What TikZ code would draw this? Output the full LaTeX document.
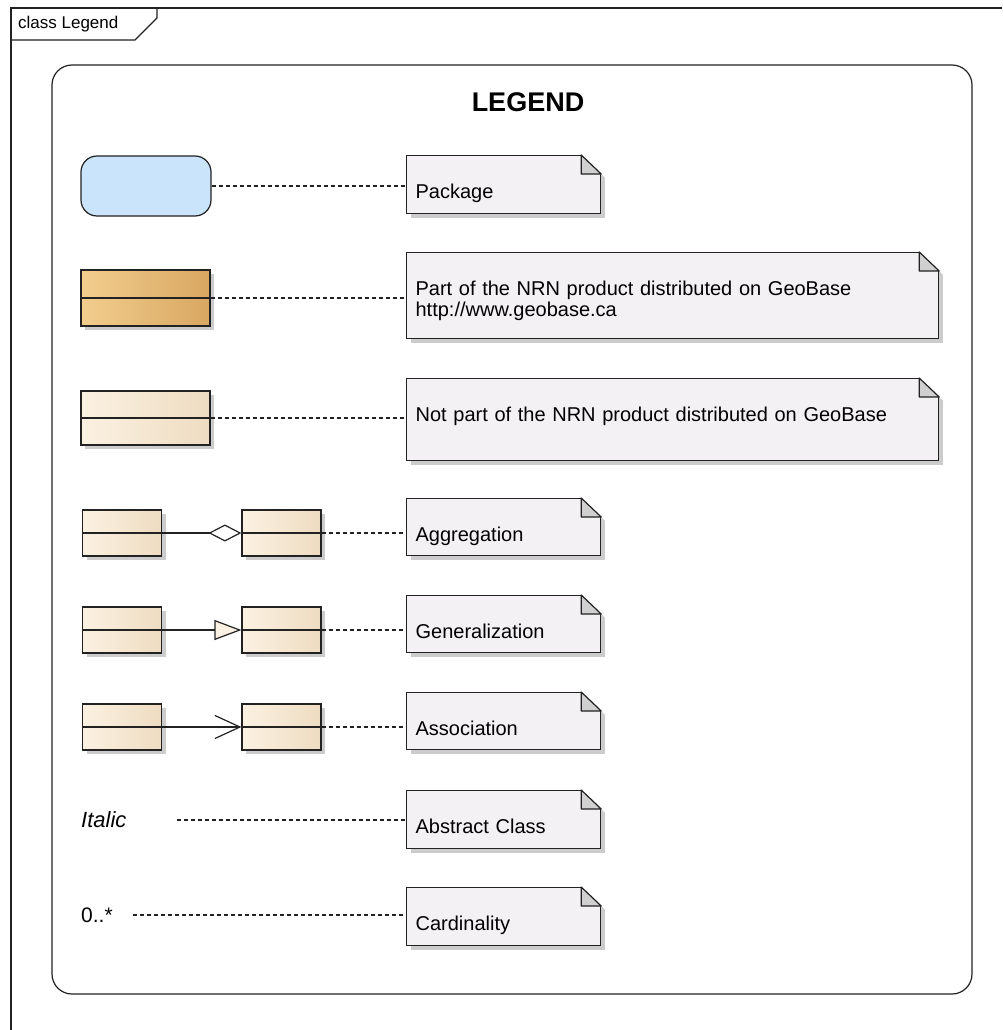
\documentclass[tikz,border=0pt]{standalone}
\usepackage{fontspec}
\setmainfont{Liberation Sans}
\usetikzlibrary{arrows.meta,shadows,positioning}

\definecolor{linec}{HTML}{222222}
\definecolor{pkgblue}{HTML}{C9E4FB}
\definecolor{notefill}{HTML}{F4F1F4}
\definecolor{foldgray}{HTML}{D0D0D0}
\definecolor{geoL}{HTML}{F2CD8E}
\definecolor{geoR}{HTML}{D8A761}
\definecolor{plainL}{HTML}{FBF1E2}
\definecolor{plainR}{HTML}{EEDCC1}

\tikzset{
  softshadow/.style={drop shadow={shadow xshift=4pt,shadow yshift=-4pt,fill=black!40}},
  classbox/.style={draw=linec, line width=1.2pt, inner sep=0pt, softshadow,
    left color=plainL, right color=plainR,
    path picture={\draw[linec,line width=1.4pt] (path picture bounding box.west) -- (path picture bounding box.east);}},
  notebox/.style={draw=linec, line width=1.2pt, fill=notefill, softshadow, anchor=north west,
    inner xsep=9pt, inner ysep=0pt, align=left, text height=43pt,
    font=\fontsize{20}{21}\selectfont},
  dots/.style={linec, line width=1.3pt, dash pattern=on 4pt off 3pt},
  aggline/.style={linec, line width=1.2pt, -{Diamond[open,length=33pt,width=17pt]}},
  genline/.style={linec, line width=1.2pt, -{Triangle[length=27pt,width=20pt,fill=plainL]}},
  ascline/.style={linec, line width=1.2pt, -{Straight Barb[length=25pt,width=23pt]}}
}

\begin{document}
\begin{tikzpicture}[x=1pt,y=-1pt]
\useasboundingbox (0,0) rectangle (1002,1030);

% frame and tab
\draw[linec, line width=1.3pt] (11,1030) -- (11,8) -- (1002,8);
\draw[linec, line width=1.2pt] (11,40) -- (135,40) -- (157,18) -- (157,8);
\node[anchor=base west, inner sep=0pt, font=\fontsize{17}{17}\selectfont] (tabLbl) at (18,29) {class Legend};

\node[draw=linec, line width=1.2pt, rounded corners=20pt, minimum width=920pt, minimum height=929pt] (board) at (512,529.5) {};
\node[font=\bfseries\fontsize{27}{27}\selectfont] (title) at (528,102) {LEGEND};

% package and the two kinds of class
\node[draw=linec, line width=1.2pt, fill=pkgblue, rounded corners=16pt, minimum width=130pt, minimum height=60pt] (pkg) at (146,186) {};
\node[classbox, left color=geoL, right color=geoR, minimum width=129pt, minimum height=56pt] (geo) at (145.5,298) {};
\node[classbox, minimum width=129pt, minimum height=54pt] (plain) at (145.5,418) {};

\node[notebox, text width=176pt, text depth=15pt] (nPkg) at (406,155) {Package};
\node[notebox, text width=514pt, text depth=43pt] (nGeo) at (406,252) {Part of the NRN product distributed on GeoBase\\http://www.geobase.ca};
\node[notebox, text width=514pt, text depth=39pt] (nNot) at (406,378) {Not part of the NRN product distributed on GeoBase};

\draw[dots] (pkg.east) -- (pkg.east -| nPkg.west);
\draw[dots] (geo.east) -- (geo.east -| nGeo.west);
\draw[dots] (plain.east) -- (plain.east -| nNot.west);

% relations
\foreach \r/\y/\ln/\txt in {Agg/533/aggline/Aggregation, Gen/630/genline/Generalization, Asc/727/ascline/Association} {
  \node[classbox, minimum width=79pt, minimum height=46pt] (l\r) at (122,\y) {};
  \node[classbox, minimum width=79pt, minimum height=46pt] (r\r) at (281.5,\y) {};
  \node[notebox, text width=176pt, text depth=14pt] (n\r) at (406,\y-35) {\txt};
  \draw[\ln] (l\r) -- (r\r);
  \draw[dots] (r\r.east) -- (r\r.east -| n\r.west);
}

% abstract class and cardinality
\node[anchor=west, inner sep=0pt, font=\itshape\fontsize{22}{22}\selectfont] (ital) at (81,820) {Italic};
\node[notebox, text width=176pt, text depth=15pt] (nAbs) at (406,790) {Abstract Class};
\draw[dots] ([xshift=50pt]ital.east) -- (ital.east -| nAbs.west);

\node[anchor=west, inner sep=0pt, font=\fontsize{21}{21}\selectfont] (card) at (81,915) {0..*};
\node[notebox, text width=176pt, text depth=15pt] (nCard) at (406,887) {Cardinality};
\draw[dots] ([xshift=20pt]card.east) -- (card.east -| nCard.west);

% folded corners
\foreach \n in {nPkg,nGeo,nNot,nAgg,nGen,nAsc,nAbs,nCard} {
  \fill[white] ([xshift=-20pt]\n.north east) -- ([xshift=-22.1pt,yshift=2pt]\n.north east)
    -- ([xshift=7pt,yshift=2pt]\n.north east) -- ([xshift=7pt,yshift=-25.7pt]\n.north east)
    -- ([yshift=-19pt]\n.north east) -- cycle;
  \draw[linec, line width=1.2pt, line join=round, fill=foldgray] ([xshift=-20pt]\n.north east)
    -- ([yshift=-19pt]\n.north east) -- ([xshift=-20pt,yshift=-19pt]\n.north east) -- cycle;
}
\end{tikzpicture}
\end{document}
